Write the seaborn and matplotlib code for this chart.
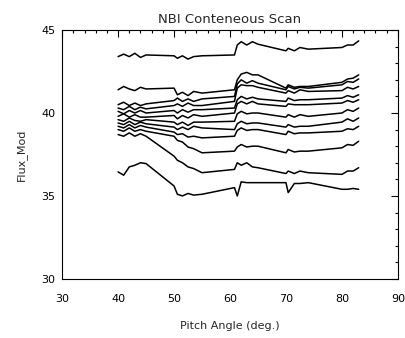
import numpy as np
import pandas as pd
import matplotlib
matplotlib.use("Agg")
import matplotlib.pyplot as plt
from matplotlib.ticker import MultipleLocator
import seaborn as sns

# pitch angles sampled in each scan block (shared by all channels)
pitch = [40, 41, 42, 43, 44, 45,
         50, 50.6, 51.5, 52.5, 53.5, 55,
         60.8, 61.3, 62, 63, 64, 65,
         70, 70.4, 71.5, 72.5, 74,
         80, 81, 82, 83]

# flux per channel
s1 = [43.4, 43.55, 43.4, 43.6, 43.35, 43.5,
      43.45, 43.3, 43.45, 43.25, 43.4, 43.45,
      43.5, 44.1, 44.3, 44.1, 44.3, 44.15,
      43.75, 43.9, 43.75, 43.95, 43.85,
      43.95, 44.1, 44.1, 44.35]
s2 = [41.4, 41.6, 41.45, 41.35, 41.55, 41.45,
      41.5, 41.1, 41.25, 41.05, 41.3, 41.2,
      41.4, 42.0, 42.35, 42.45, 42.3, 42.3,
      41.5, 41.7, 41.55, 41.6, 41.6,
      41.85, 42.05, 42.1, 42.3]
s3 = [40.5, 40.65, 40.45, 40.6, 40.45, 40.55,
      40.75, 40.9, 40.7, 40.85, 40.7, 40.85,
      41.0, 41.75, 42.0, 41.8, 41.95, 41.8,
      41.4, 41.6, 41.45, 41.55, 41.5,
      41.7, 41.9, 41.85, 42.05]
s4 = [40.3, 40.2, 40.4, 40.2, 40.35, 40.25,
      40.45, 40.55, 40.4, 40.6, 40.45, 40.45,
      40.7, 41.5, 41.7, 41.65, 41.65, 41.55,
      41.2, 41.35, 41.2, 41.4, 41.3,
      41.35, 41.55, 41.45, 41.6]
s5 = [40.1, 39.95, 40.15, 40.0, 40.15, 40.0,
      40.15, 40.0, 40.2, 40.05, 40.2, 40.2,
      40.3, 40.8, 41.0, 40.85, 40.95, 40.85,
      40.7, 40.9, 40.75, 40.8, 40.8,
      40.9, 41.05, 40.95, 41.1]
s6 = [39.8, 39.95, 39.75, 39.9, 39.75, 39.75,
      39.85, 39.65, 39.85, 39.7, 39.9, 39.8,
      40.0, 40.55, 40.7, 40.55, 40.7, 40.55,
      40.4, 40.55, 40.5, 40.5, 40.5,
      40.6, 40.75, 40.65, 40.8]
s7 = [39.6, 39.5, 39.7, 39.55, 39.5, 39.6,
      39.45, 39.3, 39.45, 39.25, 39.45, 39.45,
      39.5, 39.95, 40.1, 39.95, 40.0, 40.0,
      39.75, 39.9, 39.75, 39.9, 39.8,
      40.0, 40.2, 40.1, 40.3]
s8 = [39.4, 39.3, 39.5, 39.3, 39.45, 39.35,
      39.15, 39.0, 39.15, 39.0, 39.2, 39.1,
      39.0, 39.35, 39.5, 39.35, 39.4, 39.4,
      39.15, 39.3, 39.15, 39.2, 39.2,
      39.45, 39.65, 39.5, 39.7]
s9 = [39.2, 39.1, 39.3, 39.1, 39.25, 39.15,
      38.85, 38.7, 38.75, 38.55, 38.6, 38.5,
      38.6, 38.95, 39.1, 38.95, 39.0, 39.0,
      38.7, 38.9, 38.75, 38.8, 38.8,
      38.9, 39.05, 39.0, 39.2]
s10 = [39.0, 38.9, 39.1, 38.9, 39.0, 38.9,
       38.6, 38.35, 38.25, 37.95, 37.85, 37.6,
       37.7, 37.95, 38.1, 37.95, 38.0, 38.0,
       37.6, 37.8, 37.65, 37.7, 37.7,
       37.9, 38.1, 38.05, 38.3]
s11 = [38.7, 38.6, 38.8, 38.6, 38.75, 38.6,
       37.4, 37.15, 37.0, 36.75, 36.65, 36.4,
       36.6, 37.0, 36.85, 37.0, 36.75, 36.7,
       36.35, 36.5, 36.35, 36.5, 36.4,
       36.3, 36.5, 36.5, 36.7]
s12 = [36.45, 36.25, 36.75, 36.85, 37.0, 36.95,
       35.6, 35.1, 35.0, 35.15, 35.05, 35.1,
       35.5, 35.0, 35.85, 35.8, 35.8, 35.8,
       35.8, 35.2, 35.75, 35.75, 35.8,
       35.4, 35.4, 35.45, 35.4]

channels = [s1, s2, s3, s4, s5, s6, s7, s8, s9, s10, s11, s12]

# long table for seaborn
rows = []
for i, vals in enumerate(channels):
    for a, v in zip(pitch, vals):
        rows.append({"channel": i, "pitch": a, "flux": v})
df = pd.DataFrame(rows)

sns.set_style("white")
plt.rcParams["font.family"] = ["DejaVu Sans"]

fig = plt.figure(figsize=(4.06, 3.38), dpi=100)
ax = fig.add_axes([0.153, 0.175, 0.827, 0.736])

sns.lineplot(data=df, x="pitch", y="flux", units="channel", estimator=None,
             color="black", linewidth=1.1, sort=False, ax=ax, legend=False)

ax.set_xlim(30, 90)
ax.set_ylim(30, 45)
ax.xaxis.set_major_locator(MultipleLocator(10))
ax.xaxis.set_minor_locator(MultipleLocator(2))
ax.yaxis.set_major_locator(MultipleLocator(5))
ax.yaxis.set_minor_locator(MultipleLocator(1))
ax.tick_params(which="both", direction="in", top=True, right=True,
               labelsize=8, color="black", labelcolor="black", width=0.8)
ax.tick_params(which="major", length=5)
ax.tick_params(which="minor", length=2.5)
ax.tick_params(axis="x", which="major", pad=11)
ax.tick_params(axis="y", which="major", pad=5)
for sp in ax.spines.values():
    sp.set_color("black")
    sp.set_linewidth(0.8)

ax.set_xlabel("Pitch Angle (deg.)", fontsize=8, labelpad=12)
ax.set_ylabel("Flux_Mod", fontsize=8, labelpad=10)
ax.set_title("NBI Conteneous Scan", fontsize=9.5, pad=5)

fig.savefig("out.png", dpi=100)
